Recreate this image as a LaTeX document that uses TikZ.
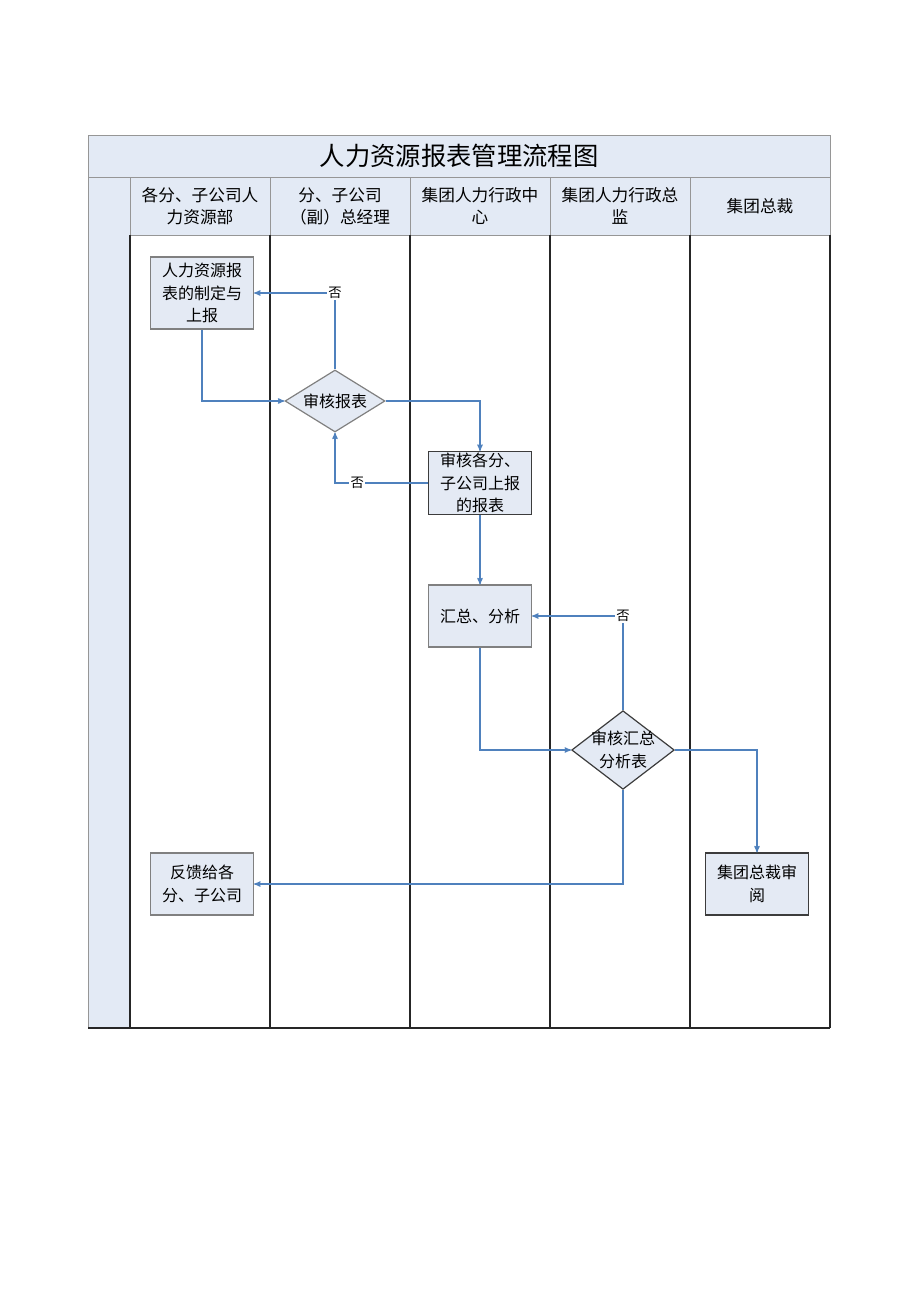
\documentclass[tikz,border=0pt]{standalone}
\usepackage{fontspec}
\setmainfont{Noto Sans CJK SC}
\usepackage{tikz}
\usetikzlibrary{arrows,shapes.geometric,positioning}

\definecolor{flowblue}{RGB}{79,129,189}
\definecolor{boxfill}{RGB}{228,234,244}
\definecolor{headfill}{RGB}{227,234,245}
\definecolor{headline}{RGB}{150,150,150}
\definecolor{boxgray}{RGB}{128,128,128}
\definecolor{boxdark}{RGB}{60,60,60}

\begin{document}
\begin{tikzpicture}[x=0.75pt,y=-0.75pt,>=stealth',node distance=0pt,font=\fontsize{12}{17}\selectfont]
  \tikzstyle{title}=[rectangle,draw=headline,fill=headfill,minimum width=556.5pt,minimum height=31.5pt,outer sep=0pt,font=\fontsize{19}{22}\selectfont]
  \tikzstyle{lanehead}=[rectangle,draw=headline,fill=headfill,minimum width=105pt,minimum height=43.5pt,outer sep=0pt,align=center,inner sep=1pt,font=\fontsize{12.5}{16.5}\selectfont]
  \tikzstyle{task}=[rectangle,draw=boxgray,fill=boxfill,minimum width=77.25pt,minimum height=46.5pt,align=center,inner sep=1pt,line width=0.9pt]
  \tikzstyle{decision}=[diamond,draw=boxgray,fill=boxfill,inner sep=-4pt,align=center,line width=0.9pt]
  \tikzstyle{flow}=[->,draw=flowblue,line width=0.8pt]
  \tikzstyle{nolabel}=[fill=white,inner sep=1pt,font=\fontsize{10}{12}\selectfont]
  \tikzstyle{laneline}=[draw=black!85,line width=1pt]

  \useasboundingbox (0,0) rectangle (920,1301);

  % frame and swimlanes
  \filldraw[fill=headfill,draw=headline] (88,177) rectangle (130,1028);
  \node[title] (title) at (459,156) {人力资源报表管理流程图};
  \node[lanehead] (h1) at (200,206) {各分、子公司人\\力资源部};
  \node[lanehead] (h2) [right=of h1] {分、子公司\\（副）总经理};
  \node[lanehead] (h3) [right=of h2] {集团人力行政中\\心};
  \node[lanehead] (h4) [right=of h3] {集团人力行政总\\监};
  \node[lanehead] (h5) [right=of h4] {集团总裁};
  \foreach \x in {130,270,410,550,690,830}
    \draw[laneline] (\x,235) -- (\x,1028);
  \draw[laneline] (88,1028) -- (830,1028);

  % steps
  \node[task,minimum height=54pt] (report) at (202,293) {人力资源报\\表的制定与\\上报};
  \node[decision,aspect=1.6,minimum width=75pt,minimum height=46.5pt] (check) at (335,401) {审核报表};
  \node[task,draw=boxdark] (review) at (480,483) {审核各分、\\子公司上报\\的报表};
  \node[task] (summary) at (480,616) {汇总、分析};
  \node[decision,draw=boxdark,aspect=1.3,minimum width=77pt,minimum height=59pt] (audit) at (623,750) {审核汇总\\分析表};
  \node[task,draw=boxdark] (ceo) at (757,884) {集团总裁审\\阅};
  \node[task] (feedback) at (202,884) {反馈给各\\分、子公司};

  % connectors
  \draw[flow] (report.south) |- (check.west);
  \draw[flow] (check.north) |- node[nolabel] {否} (report.east);
  \draw[flow] (check.east) -| (review.north);
  \draw[flow] (review.west) -| node[nolabel,pos=0.38] {否} (check.south);
  \draw[flow] (review) -- (summary);
  \draw[flow] (summary.south) |- (audit.west);
  \draw[flow] (audit.north) |- node[nolabel] {否} (summary.east);
  \draw[flow] (audit.east) -| (ceo.north);
  \draw[flow] (audit.south) |- (feedback.east);
\end{tikzpicture}
\end{document}
